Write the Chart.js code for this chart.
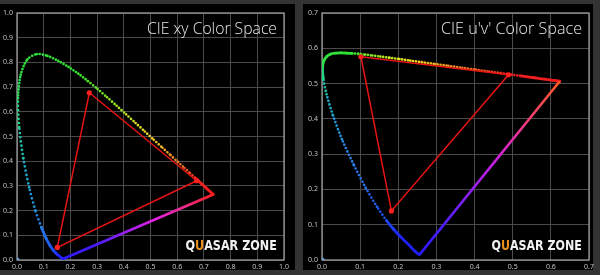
<!DOCTYPE html>
<html><head><meta charset="utf-8">
<script src="https://cdn.jsdelivr.net/npm/chart.js@4.4.1/dist/chart.umd.min.js"></script>
<style>
html,body{margin:0;padding:0;background:#333333;width:600px;height:275px;overflow:hidden;}
.panel{position:absolute;background:#000;}
canvas{position:absolute;}
</style></head><body>
<div class="panel" style="left:0;top:4px;width:295px;height:266px"></div>
<div class="panel" style="left:303px;top:4px;width:290px;height:266px"></div>
<canvas id="c1" style="left:0;top:4px" width="295" height="267"></canvas>
<canvas id="c2" style="left:303px;top:4px" width="297" height="267"></canvas>
<script>
// ---- data ----
const locusNm = [380,390,400,410,420,425,430,435,440,445,450,455,460,465,470,475,480,485,490,495,500,505,510,515,520,525,530,535,540,545,550,555,560,565,570,575,580,585,590,595,600,605,610,615,620,625,630,635,640,645,650,660,670,680,690,700];
const locusX = [.1741,.1738,.1733,.1726,.1714,.1703,.1689,.1669,.1644,.1611,.1566,.1510,.1440,.1355,.1241,.1096,.0913,.0687,.0454,.0235,.0082,.0039,.0139,.0389,.0743,.1142,.1547,.1929,.2296,.2658,.3016,.3373,.3731,.4087,.4441,.4788,.5125,.5448,.5752,.6029,.6270,.6482,.6658,.6801,.6915,.7006,.7079,.7140,.7190,.7230,.7260,.7300,.7320,.7334,.7344,.7347];
const locusY = [.0050,.0049,.0048,.0048,.0051,.0058,.0069,.0086,.0109,.0138,.0177,.0227,.0297,.0399,.0578,.0868,.1327,.2007,.2950,.4127,.5384,.6548,.7502,.8120,.8338,.8262,.8059,.7816,.7543,.7243,.6923,.6589,.6245,.5896,.5547,.5202,.4866,.4544,.4242,.3965,.3725,.3514,.3340,.3197,.3083,.2993,.2920,.2859,.2809,.2770,.2740,.2700,.2680,.2666,.2656,.2653];
const locusU = [.2568,.2564,.2557,.2545,.2522,.2496,.2461,.2411,.2347,.2266,.2161,.2033,.1877,.1690,.1441,.1147,.0828,.0521,.0282,.0119,.0035,.0014,.0046,.0123,.0231,.0360,.0501,.0643,.0792,.0953,.1127,.1319,.1531,.1766,.2026,.2312,.2623,.2960,.3315,.3681,.4035,.4379,.4692,.4968,.5203,.5399,.5565,.5709,.5830,.5929,.6005,.6109,.6162,.6199,.6226,.6234];
const locusV = [.0166,.0163,.0159,.0159,.0169,.0191,.0226,.0279,.0350,.0437,.0549,.0688,.0871,.1119,.1510,.2044,.2708,.3427,.4117,.4698,.5131,.5432,.5638,.5770,.5837,.5861,.5868,.5865,.5856,.5841,.5821,.5796,.5766,.5732,.5694,.5651,.5604,.5554,.5501,.5446,.5393,.5342,.5296,.5254,.5219,.5190,.5165,.5143,.5125,.5111,.5099,.5084,.5076,.5070,.5066,.5065];

const gamutX = [0.271, 0.673, 0.151, 0.271];
const gamutY = [0.677, 0.321, 0.051, 0.677];
const gamutU = [0.102, 0.489, 0.182, 0.102];
const gamutV = [0.576, 0.525, 0.139, 0.576];

const originXY = [0, 0];
const xyTickLabels = ['0.0','0.1','0.2','0.3','0.4','0.5','0.6','0.7','0.8','0.9','1.0'];
const uvTickLabels = ['0.0','0.1','0.2','0.3','0.4','0.5','0.6','0.7'];
const xyTitle = 'CIE xy Color Space';
const uvTitle = "CIE u'v' Color Space";

// ---- styling helpers ----
const colorStops = [[380,[32,32,255]],[455,[32,32,255]],[465,[32,72,245]],[480,[42,120,228]],[490,[32,160,216]],[497,[32,192,176]],[503,[32,216,128]],[510,[48,224,64]],[540,[48,228,48]],[555,[128,228,32]],[565,[192,228,32]],[575,[240,224,32]],[585,[240,176,32]],[595,[240,128,32]],[605,[240,74,32]],[615,[240,32,32]],[700,[240,24,24]]];
function nmColor(nm){
  for(let i=1;i<colorStops.length;i++){
    const [n1,c1]=colorStops[i], [n0,c0]=colorStops[i-1];
    if(nm<=n1){const t=(nm-n0)/(n1-n0);return 'rgb('+c0.map((c,k)=>Math.round(c+(c1[k]-c)*t)).join(',')+')';}
  }
  return 'rgb(240,24,24)';
}
function pts(xs, ys){ return xs.map((x,i)=>({x, y: ys[i]})); }

function locusDS(xs, ys, dashFn){
  return {
    data: pts(xs, ys), showLine: true, pointRadius: 0, tension: 0.3,
    borderCapStyle: 'round', borderWidth: 2.7, borderColor: '#30e030',
    segment: {
      borderColor: c => nmColor((locusNm[c.p0DataIndex]+locusNm[c.p1DataIndex])/2),
      borderDash: c => dashFn(locusNm[c.p0DataIndex]),
      borderWidth: c => dashFn(locusNm[c.p0DataIndex]).length ? 2.7 : 2.8
    }
  };
}
function purpleDS(xs, ys, stops){
  const a = {x: xs[0], y: ys[0]}, b = {x: xs[xs.length-1], y: ys[ys.length-1]};
  return {
    data: [a, b], showLine: true, pointRadius: 0, borderWidth: 2.6,
    borderColor: (c) => {
      const ch = c.chart; if(!ch.chartArea) return '#8020ff';
      const sx = ch.scales.x, sy = ch.scales.y;
      const g = ch.ctx.createLinearGradient(sx.getPixelForValue(a.x), sy.getPixelForValue(a.y), sx.getPixelForValue(b.x), sy.getPixelForValue(b.y));
      stops.forEach(([o,col])=>g.addColorStop(o,col));
      return g;
    }
  };
}
function gamutDS(xs, ys){
  return {data: pts(xs, ys), showLine: true, borderColor: '#e81414', borderWidth: 1.5,
    pointRadius: [2.6,2.6,2.6,0], pointBackgroundColor: '#ff2020', pointBorderWidth: 0, tension: 0};
}
function originDS(){
  return {data: [{x: originXY[0], y: originXY[1]}], pointRadius: 2.6, pointBackgroundColor: '#6a9ed8', pointBorderWidth: 0};
}

const deco = {
  id: 'deco',
  beforeDatasetsDraw(chart){
    const {ctx, chartArea: a} = chart;
    ctx.save(); ctx.strokeStyle = '#9a9a9a'; ctx.lineWidth = 1.3;
    ctx.strokeRect(a.left, a.top, a.right - a.left, a.bottom - a.top);
    ctx.restore();
  },
  afterDatasetsDraw(chart, args, o){
    const {ctx, chartArea: a} = chart;
    ctx.save();
    ctx.font = '300 16px "Open Sans"';
    ctx.fillStyle = '#e6e6e6';
    const tw = ctx.measureText(o.title).width;
    const sc = o.titleWidth / tw;
    ctx.translate(a.right - 7 - o.titleWidth, a.top + 21);
    ctx.scale(sc, 1);
    ctx.textBaseline = 'alphabetic';
    ctx.fillText(o.title, 0, 0);
    ctx.restore();
    // watermark
    ctx.save();
    ctx.font = 'bold 14px "DejaVu Sans"';
    ctx.textBaseline = 'alphabetic';
    const parts = [['Q','#f2f2f2'],['U','#e8901c'],['ASAR ZONE','#f2f2f2']];
    const total = ctx.measureText('QUASAR ZONE').width;
    ctx.translate(a.right - 7.5 - o.markWidth, a.bottom - 10);
    ctx.scale(o.markWidth / total, 1);
    let x = 0;
    for(const [t,c] of parts){ ctx.fillStyle = c; ctx.fillText(t, x, 0); x += ctx.measureText(t).width; }
    ctx.restore();
  }
};

function scaleCfg(max, labels, isX, fit){
  return {
    type: 'linear', min: 0, max,
    ticks: {stepSize: 0.1, autoSkip: false, maxRotation: 0, padding: isX ? 3 : 4, color: '#c2c2c2',
      font: {size: 7, family: '"Noto Sans"'}, callback: (v, i) => labels[i]},
    grid: {color: '#4a4a4a', lineWidth: 1, drawTicks: false},
    border: {display: false},
    afterFit(s){ if(isX) s.height = fit; else s.width = fit; }
  };
}

function makeChart(id, datasets, max, labels, yw, title, titleWidth, markWidth){
  return new Chart(document.getElementById(id), {
    type: 'scatter',
    data: {datasets},
    options: {
      responsive: false, animation: false, events: [],
      layout: {padding: {top: 9, right: 11, left: 0, bottom: 0}},
      scales: {x: scaleCfg(max, labels, true, 11), y: scaleCfg(max, labels, false, yw)},
      plugins: {legend: {display: false}, tooltip: {enabled: false},
        deco: {title, titleWidth, markWidth}}
    },
    plugins: [deco]
  });
}

const xyDash = nm => (nm < 478 || nm >= 607) ? [] : (nm < 505 ? [0, 4.2] : (nm < 545 ? [0, 3] : [0, 3.3]));
const uvDash = nm => (nm < 465 || nm >= 620) ? [] : (nm < 500 ? [0, 3.6] : (nm < 540 ? [] : [0, 2.9]));

makeChart('c1', [
  gamutDS(gamutX, gamutY),
  originDS(),
  purpleDS(locusX, locusY, [[0,'#2a1aff'],[0.22,'#4a1cff'],[0.42,'#9a20f0'],[0.6,'#e020e0'],[0.8,'#f02a90'],[1,'#ff2020']]),
  locusDS(locusX, locusY, xyDash)
], 1, xyTickLabels, 17, xyTitle, 130, 91);

makeChart('c2', [
  gamutDS(gamutU, gamutV),
  originDS(),
  purpleDS(locusU, locusV, [[0,'#2a1aff'],[0.15,'#4a1cff'],[0.35,'#8a20f0'],[0.55,'#d020e0'],[0.75,'#f03a80'],[1,'#ff5a20']]),
  locusDS(locusU, locusV, uvDash)
], 0.7, uvTickLabels, 19, uvTitle, 141, 90);
</script>
</body></html>
